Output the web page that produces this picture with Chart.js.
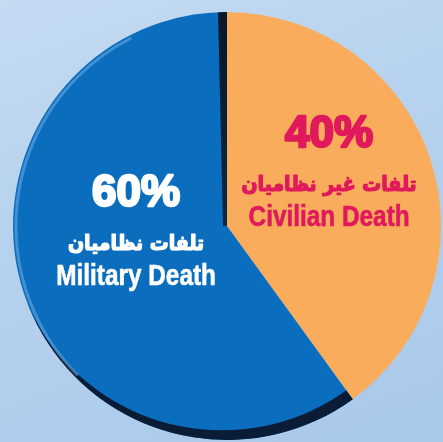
<!DOCTYPE html>
<html>
<head>
<meta charset="utf-8">
<script src="https://cdn.jsdelivr.net/npm/chart.js@4/dist/chart.umd.min.js"></script>
<style>
  html, body { margin: 0; padding: 0; }
  body {
    width: 443px; height: 442px; overflow: hidden;
    background: linear-gradient(160deg, #c4dbf2 0%, #b5d1ee 45%, #a9c9ea 100%);
  }
  #wrap { position: relative; width: 443px; height: 442px; }
</style>
</head>
<body>
<div id="wrap"><canvas id="graficoMortes"></canvas></div>
<script>
// dados do gráfico
const categorias = ["Civilian Death", "Military Death"];
const rotulosFarsi = ["تلفات غیر نظامیان", "تلفات نظامیان"];
const valores = [40, 60];
const cores = ["#f9ac5b", "#0a6dbd"];
const coresTexto = ["#e0195c", "#ffffff"];

// sombra escura na borda da fatia azul
const sombraPlugin = {
  id: "sombra",
  afterDatasetsDraw(chart) {
    const arco = chart.getDatasetMeta(0).data[1];
    const { x, y, outerRadius, startAngle, endAngle } = arco.getProps(["x", "y", "outerRadius", "startAngle", "endAngle"], true);
    const ctx = chart.ctx;
    ctx.save();
    ctx.beginPath();
    ctx.moveTo(x, y);
    ctx.arc(x, y, outerRadius, startAngle, endAngle);
    ctx.closePath();
    ctx.clip();

    // faixa escura no fundo (lua crescente)
    const d = 10;
    const phi = startAngle + 0.1;
    ctx.beginPath();
    ctx.arc(x, y, outerRadius + 2, 0, Math.PI * 2);
    ctx.arc(x - d * Math.cos(phi), y - d * Math.sin(phi), outerRadius - 1, 0, Math.PI * 2, true);
    ctx.fillStyle = "#0b1d36";
    ctx.fill();

    // linha escura vertical
    const grad = ctx.createLinearGradient(x, y - outerRadius, x, y);
    grad.addColorStop(0, "rgba(8, 22, 42, 1)");
    grad.addColorStop(1, "rgba(8, 22, 42, 0.8)");
    ctx.beginPath();
    ctx.moveTo(x - 9, y - outerRadius);
    ctx.lineTo(x, y - outerRadius);
    ctx.lineTo(x, y);
    ctx.lineTo(x - 4, y);
    ctx.closePath();
    ctx.fillStyle = grad;
    ctx.fill();

    // brilho na borda esquerda
    ctx.beginPath();
    ctx.arc(x, y, outerRadius - 3, Math.PI * 0.75, Math.PI * 1.35);
    ctx.lineWidth = 3;
    ctx.strokeStyle = "rgba(120, 180, 235, 0.5)";
    ctx.stroke();
    ctx.restore();
  }
};

// textos dentro das fatias
const posicoes = [[0.477, -0.19], [-0.425, 0.085]];
const rotulosPlugin = {
  id: "rotulos",
  afterDraw(chart) {
    const ctx = chart.ctx;
    const meta = chart.getDatasetMeta(0);
    meta.data.forEach((arco, i) => {
      const cx = arco.x + posicoes[i][0] * arco.outerRadius;
      const cy = arco.y + posicoes[i][1] * arco.outerRadius;
      ctx.save();
      ctx.fillStyle = coresTexto[i];
      ctx.strokeStyle = coresTexto[i];
      ctx.lineJoin = "round";
      ctx.textAlign = "center";
      ctx.textBaseline = "middle";
      ctx.font = "bold 44px 'Liberation Sans', Arial, sans-serif";
      ctx.lineWidth = 2.5;
      ctx.strokeText(valores[i] + "%", cx, cy - 50);
      ctx.fillText(valores[i] + "%", cx, cy - 50);
      ctx.font = "bold 21px 'DejaVu Sans Condensed', 'DejaVu Sans', sans-serif";
      ctx.lineWidth = 1.2;
      ctx.strokeText(rotulosFarsi[i], cx, cy);
      ctx.fillText(rotulosFarsi[i], cx, cy);
      // texto em inglês estreito
      ctx.translate(cx, cy + 33);
      ctx.scale(0.84, 1);
      ctx.font = "bold 29px 'Liberation Sans', Arial, sans-serif";
      ctx.lineWidth = 0.6;
      ctx.strokeText(categorias[i], 0, 0);
      ctx.fillText(categorias[i], 0, 0);
      ctx.restore();
    });
  }
};

const ctx = document.getElementById("graficoMortes").getContext("2d");
const grafico = new Chart(ctx, {
  type: "pie",
  data: {
    labels: categorias,
    datasets: [{
      data: valores,
      backgroundColor: cores,
      borderWidth: 0,
      hoverOffset: 0,
      offset: 0
    }]
  },
  options: {
    responsive: true,
    maintainAspectRatio: false,
    animation: false,
    rotation: 0,
    layout: { padding: { left: 13, top: 12, right: 2, bottom: 2 } },
    plugins: {
      legend: { display: false },
      tooltip: { enabled: false }
    }
  },
  plugins: [sombraPlugin, rotulosPlugin]
});
</script>
</body>
</html>
